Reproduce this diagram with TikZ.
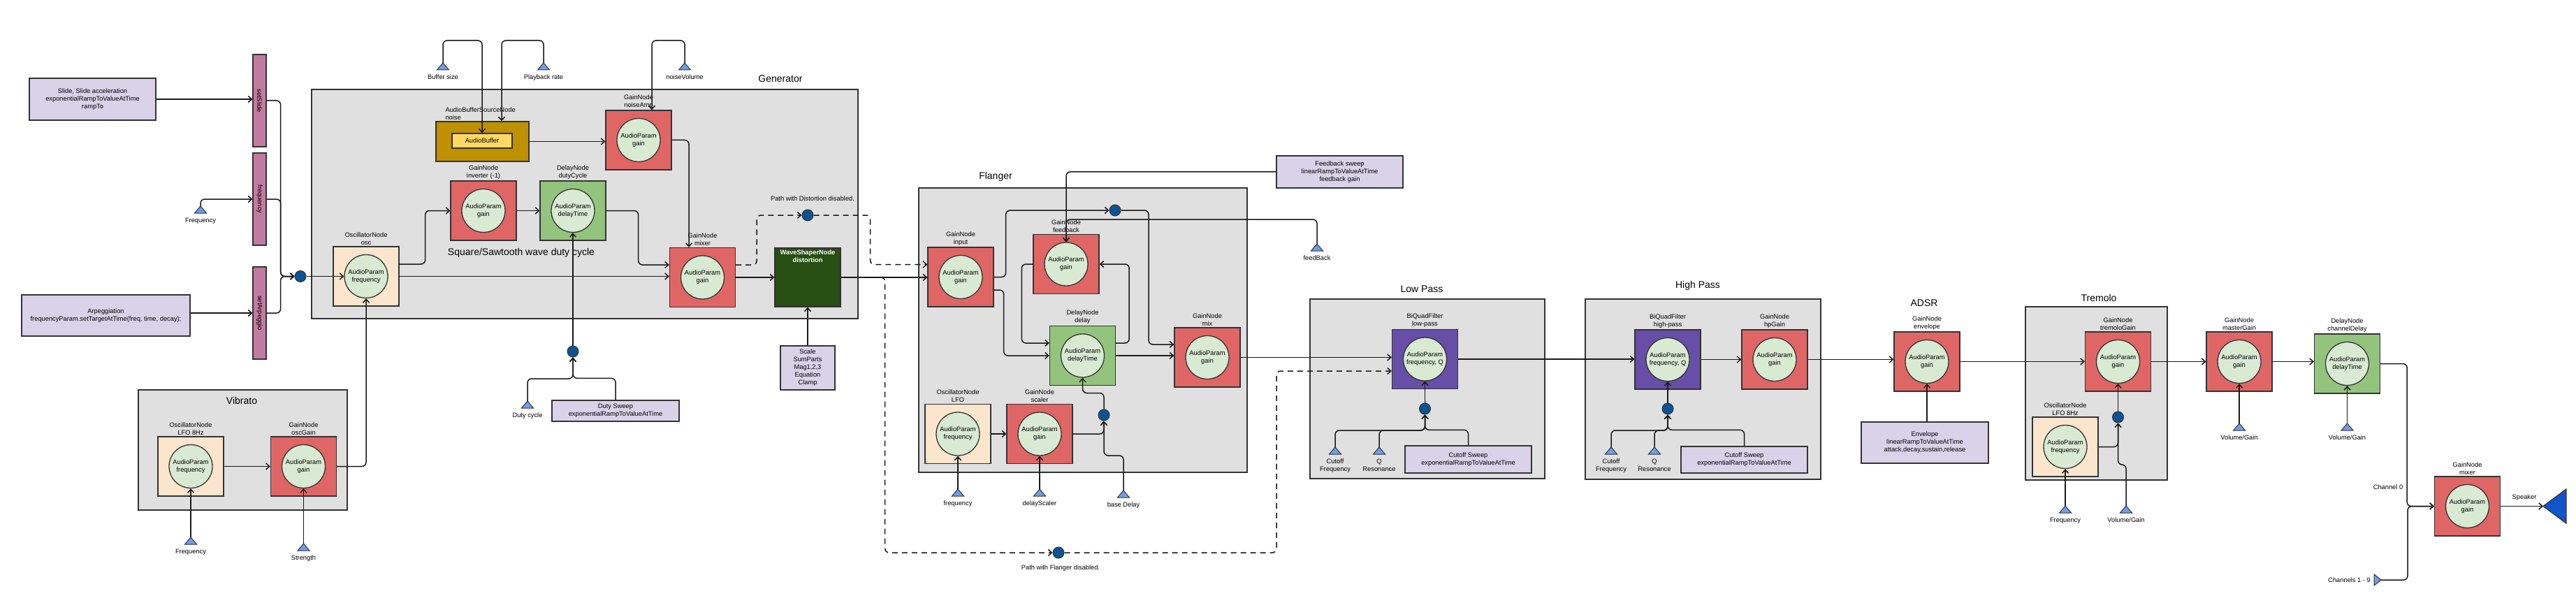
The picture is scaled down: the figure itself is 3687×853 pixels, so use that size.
\documentclass[tikz,border=0pt]{standalone}
\usepackage{fontspec}
\usepackage{graphicx}
\setmainfont{Liberation Sans}
\usetikzlibrary{arrows.meta,calc}
\definecolor{grp}{HTML}{E0E0E0}
\definecolor{redbox}{HTML}{E06666}
\definecolor{circfill}{HTML}{D9EAD3}
\definecolor{peach}{HTML}{FCE5CD}
\definecolor{greenbox}{HTML}{93C47D}
\definecolor{purp}{HTML}{674EA7}
\definecolor{lav}{HTML}{D9D2E9}
\definecolor{pinkbar}{HTML}{C27BA0}
\definecolor{goldbox}{HTML}{BF9000}
\definecolor{yel}{HTML}{FFD966}
\definecolor{dkgreen}{HTML}{274E13}
\definecolor{dotblue}{HTML}{0B5394}
\definecolor{triblue}{HTML}{6D9EEB}
\definecolor{spkblue}{HTML}{1155CC}
\definecolor{edge}{HTML}{333333}
\tikzset{
 base/.style={font=\fontsize{9.3}{11}\selectfont, text=black},
 pbox/.style={draw=edge, line width=1.3pt, minimum width=94, minimum height=85, inner sep=0},
 gainbox/.style={pbox, fill=redbox},
 oscbox/.style={pbox, fill=peach},
 delaybox/.style={pbox, fill=greenbox},
 filtbox/.style={pbox, fill=purp},
 pcirc/.style={circle, draw=edge, line width=1.3pt, fill=circfill, minimum size=62, inner sep=0, align=center, base},
 plabel/.style={anchor=south, align=center, inner sep=2pt, base},
 group/.style={draw=edge, line width=1.5pt, fill=grp, inner sep=0},
 title/.style={font=\fontsize{14}{16}\selectfont, text=black, inner sep=0},
 note/.style={draw=edge, line width=1.3pt, fill=lav, align=center, inner sep=0, base},
 bar/.style={draw=edge, line width=1.3pt, fill=pinkbar, minimum width=19, minimum height=132, inner sep=0, base},
 dot/.style={circle, draw=edge, line width=1pt, fill=dotblue, minimum size=16, inner sep=0},
 tri/.style={draw=edge, line width=1pt, fill=triblue},
 tlabel/.style={anchor=north, align=center, inner sep=0, base},
 conn/.style={draw=black!90, line width=1.5pt, rounded corners=6pt, -{Straight Barb[length=5pt,width=9pt]}},
 dconn/.style={conn, dash pattern=on 8pt off 6pt},
 txt/.style={base, inner sep=0}
}
\newcommand{\mkparam}[6]{%
  \node[#2] (#1) at (#3,#4) {};
  \node[pcirc] (#1-c) at (#1.center) {#6};
  \node[plabel] (#1-l) at (#1.north) {#5};
}
\newcommand{\mkinput}[4]{%
  \coordinate (#1) at (#2,#3);
  \draw[tri] (#1) -- ++(-8.5,10) -- ++(17,0) -- cycle;
  \node[tlabel] (#1-l) at ($(#1)+(0,17)$) {#4};
}
\begin{document}
\begin{tikzpicture}[x=1pt,y=-1pt]
\useasboundingbox (0,0) rectangle (3687,853);
\fill[white] (0,0) rectangle (3687,853);

% groups
\node[group, minimum width=782, minimum height=328] (gen) at (837,292) {};
\node[group, minimum width=299, minimum height=172] (vib) at (347.5,644) {};
\node[group, minimum width=470, minimum height=407] (flg) at (1550,472.5) {};
\node[group, minimum width=336, minimum height=257] (lpg) at (2043,556.5) {};
\node[group, minimum width=337, minimum height=258] (hpgr) at (2437.5,557) {};
\node[group, minimum width=203, minimum height=248] (trem) at (3000.5,563) {};

% titles
\node[title] (gen-t) at (1117,113) {Generator};
\node[title] (vib-t) at (346,573) {Vibrato};
\node[title] (flg-t) at (1425,253) {Flanger};
\node[title] (lp-t) at (2035,414) {Low Pass};
\node[title] (hp-t) at (2430,409) {High Pass};
\node[title] (adsr-t) at (2754,434) {ADSR};
\node[title] (trem-t) at (3004,426) {Tremolo};
\node[title] (sq-t) at (746,362) {Square/Sawtooth wave duty cycle};

% left controls
\node[note, minimum width=181, minimum height=60] (slide) at (132.5,142) {Slide, Slide acceleration\\exponentialRampToValueAtTime\\rampTo};
\node[note, minimum width=241, minimum height=59] (arp) at (151.5,451.5) {Arpeggiation\\frequencyParam.setTargetAtTime(freq, time, decay);};
\node[bar] (setslide) at (371.5,144) {\rotatebox{-90}{setSlide}};
\node[bar] (freqbar) at (371.5,285) {\rotatebox{-90}{frequency}};
\node[bar] (setarp) at (371.5,448) {\rotatebox{-90}{setArpeggio}};
\mkinput{tf1}{287}{295}{Frequency}
\node[dot] (dot1) at (430,395.5) {};

% generator
\mkparam{osc}{oscbox}{524}{395.5}{OscillatorNode\\osc}{AudioParam\\frequency}
\mkparam{inv}{gainbox}{692}{301.5}{GainNode\\inverter (-1)}{AudioParam\\gain}
\mkparam{duty}{delaybox}{820}{301.5}{DelayNode\\dutyCycle}{AudioParam\\delayTime}
\mkparam{namp}{gainbox}{914}{200.5}{GainNode\\noiseAmp}{AudioParam\\gain}
\mkparam{gmix}{gainbox}{1005.5}{397}{GainNode\\mixer}{AudioParam\\gain}
\node[pbox, fill=goldbox, minimum width=133, minimum height=57] (noise) at (690.5,202.5) {};
\node[plabel, anchor=south west, align=left] (noise-l) at ($(noise.north west)+(12,0)$) {AudioBufferSourceNode\\noise};
\node[draw=edge, line width=1.3pt, fill=yel, minimum width=86, minimum height=21, inner sep=0, base] (abuf) at (690,201.5) {AudioBuffer};
\node[pbox, fill=dkgreen, minimum height=84] (dist) at (1156,397) {};
\node[anchor=north, align=center, text=white, font=\fontsize{9.3}{11}\selectfont\bfseries, inner sep=0] (dist-t) at ($(dist.north)+(0,3)$) {WaveShaperNode\\distortion};
\mkinput{tbuf}{634}{90}{Buffer size}
\mkinput{tplay}{778}{90}{Playback rate}
\mkinput{tnv}{980}{90}{noiseVolume}
\mkinput{tduty}{755}{574}{Duty cycle}
\node[note, minimum width=182, minimum height=30] (dsweep) at (881,588) {Duty Sweep\\exponentialRampToValueAtTime};
\node[dot] (dot2) at (820,503) {};
\node[note, minimum width=78, minimum height=63] (scale) at (1156,526.5) {Scale\\SumParts\\Mag1,2,3\\Equation\\Clamp};
\node[dot] (dot3) at (1156,308) {};
\node[txt] (pdist) at (1163,284) {Path with Distortion disabled.};
\node[dot] (dot4) at (1515,791) {};
\node[txt] (pflg) at (1518,813) {Path with Flanger disabled.};

% vibrato
\mkparam{vlfo}{oscbox}{273}{667.5}{OscillatorNode\\LFO 8Hz}{AudioParam\\frequency}
\mkparam{vgain}{gainbox}{434.5}{667.5}{GainNode\\oscGain}{AudioParam\\gain}
\mkinput{tvf}{273}{769}{Frequency}
\mkinput{tvs}{434.5}{778}{Strength}

% flanger
\mkparam{finput}{gainbox}{1375}{396.5}{GainNode\\input}{AudioParam\\gain}
\mkparam{ffeed}{gainbox}{1526}{378}{GainNode\\feedback}{AudioParam\\gain}
\mkparam{fdelay}{delaybox}{1549.5}{509}{DelayNode\\delay}{AudioParam\\delayTime}
\mkparam{fmix}{gainbox}{1728}{511.5}{GainNode\\mix}{AudioParam\\gain}
\mkparam{flfo}{oscbox}{1371}{621}{OscillatorNode\\LFO}{AudioParam\\frequency}
\mkparam{fscaler}{gainbox}{1488}{621}{GainNode\\scaler}{AudioParam\\gain}
\node[dot] (dot5) at (1596,301) {};
\node[dot] (dot6) at (1580,594) {};
\mkinput{tff}{1371}{700}{frequency}
\mkinput{tfs}{1488}{700}{delayScaler}
\mkinput{tfb}{1608}{702}{base Delay}
\node[note, minimum width=181, minimum height=46] (fbsweep) at (1917.5,246) {Feedback sweep\\linearRampToValueAtTime\\feedback gain};
\mkinput{tfback}{1885}{349}{feedBack}

% low pass
\mkparam{lp}{filtbox}{2039.5}{514}{BiQuadFilter\\low-pass}{AudioParam\\frequency, Q}
\node[dot] (dot7) at (2039.5,585) {};
\mkinput{tcf1}{1911}{640}{Cutoff\\Frequency}
\mkinput{tq1}{1974}{640}{Q\\Resonance}
\node[note, minimum width=181, minimum height=39] (lpsweep) at (2101.5,657.5) {Cutoff Sweep\\exponentialRampToValueAtTime};

% high pass
\mkparam{hp}{filtbox}{2387}{514.5}{BiQuadFilter\\high-pass}{AudioParam\\frequency, Q}
\mkparam{hpg}{gainbox}{2540}{514.5}{GainNode\\hpGain}{AudioParam\\gain}
\node[dot] (dot8) at (2387,585) {};
\mkinput{tcf2}{2306}{640}{Cutoff\\Frequency}
\mkinput{tq2}{2368}{640}{Q\\Resonance}
\node[note, minimum width=181, minimum height=38] (hpsweep) at (2496.5,658) {Cutoff Sweep\\exponentialRampToValueAtTime};

% ADSR
\mkparam{env}{gainbox}{2758}{517.5}{GainNode\\envelope}{AudioParam\\gain}
\node[note, minimum width=182, minimum height=59] (envbox) at (2755,633.5) {Envelope\\linearRampToValueAtTime\\attack,decay,sustain,release};

% tremolo
\mkparam{trg}{gainbox}{3031.5}{517.5}{GainNode\\tremoloGain}{AudioParam\\gain}
\mkparam{tlfo}{oscbox}{2956}{639.5}{OscillatorNode\\LFO 8Hz}{AudioParam\\frequency}
\node[dot] (dot9) at (3031.5,597) {};
\mkinput{ttf}{2956}{724}{Frequency}
\mkinput{ttv}{3043}{724}{Volume/Gain}

% output
\mkparam{master}{gainbox}{3205}{517.5}{GainNode\\masterGain}{AudioParam\\gain}
\mkparam{chd}{delaybox}{3359.5}{520.5}{DelayNode\\channelDelay}{AudioParam\\delayTime}
\mkinput{tmv}{3205}{606}{Volume/Gain}
\mkinput{tcv}{3359.5}{606}{Volume/Gain}
\mkparam{omix}{gainbox}{3531.5}{724.5}{GainNode\\mixer}{AudioParam\\gain}
\coordinate (tch) at (3408,830);
\draw[tri] (tch) -- ++(-10,-8) -- ++(0,16) -- cycle;
\node[txt, anchor=east] (tch-l) at (3393,830) {Channels 1 - 9};
\node[txt] (ch0) at (3418,697) {Channel 0};
\coordinate (spk) at (3640,724.5);
\draw[draw=edge, line width=1.3pt, fill=spkblue] (spk) -- ++(33,-24.5) -- ++(0,49) -- cycle;
\node[txt] (spk-l) at (3613,712) {Speaker};

% ---------- connectors ----------
\draw[conn] (slide.east) -- (setslide.west |- slide.east);
\draw[conn] (tf1) |- (freqbar.west);
\draw[conn] (arp.east |- setarp.west) -- (setarp.west);
\draw[conn] (setslide.east) -- ++(20,0) |- (dot1.west);
\draw[conn] (freqbar.east) -- ++(20,0) |- (dot1.west);
\draw[conn] (setarp.east) -- ++(20,0) |- (dot1.west);
\draw[conn] (dot1.east) -- (osc-c.west);

\draw[conn] ($(osc.east)+(0,-17.5)$) -- ++(37,0) |- (inv.west);
\draw[conn] (inv.east) -- (duty.west);
\draw[conn] (duty.east) -- ++(46,0) |- ($(gmix.west)+(0,-18)$);
\draw[conn] (osc.east) -- (gmix.west |- osc.east);
\draw[conn] (noise.east) -- (namp.west |- noise.east);
\draw[conn] (namp.east) -| ($(gmix.north)+(-19.5,0)$);
\draw[conn] (gmix.east) -- (dist.west |- gmix.east);
\draw[conn] (tbuf) -- ++(0,-32) -| (abuf.north);
\draw[conn] (tplay) -- ++(0,-32) -| ($(noise.north)+(27.5,0)$);
\draw[conn] (tnv) -- ++(0,-32) -| ($(namp.north)+(19,0)$);
\draw[conn] (tduty) -- ++(0,-32) -| (dot2.south);
\draw[conn] (dsweep.north) -- ++(0,-31) -| (dot2.south);
\draw[conn] (dot2.north) -- (duty-c.south);
\draw[conn] (scale.north) -- (dist.south);
\draw[dconn] ($(gmix.east)+(0,-18)$) -- ++(30,0) |- (dot3.west);
\draw[dconn] (dot3.east) -- ++(81,0) |- ($(finput.west)+(0,-18)$);
\draw[conn] (dist.east) -- (finput.west |- dist.east);
\draw[dconn] (dist.east) -- ++(63,0) |- (dot4.west);
\draw[dconn] (dot4.east) -- ++(303.5,0) |- ($(lp.west)+(0,17)$);

\draw[conn] (vlfo.east) -- (vgain.west);
\draw[conn] (vgain.east) -| (osc-c.south);
\draw[conn] (tvf) -- (vlfo-c.south);
\draw[conn] (tvs) -- (vgain-c.south);

\draw[conn] (finput.east) -- ++(17,0) |- (dot5.west);
\draw[conn] (dot5.east) -- ++(39.5,0) |- ($(fmix.west)+(0,-18.5)$);
\draw[conn] ($(finput.east)+(0,18.5)$) -- ++(14,0) |- (fdelay.west);
\draw[conn] (ffeed.west) -- ++(-16,0) |- ($(fdelay.west)+(0,-18)$);
\draw[conn] ($(fdelay.east)+(0,-18)$) -- ++(19,0) |- (ffeed.east);
\draw[conn] (fdelay.east) -- (fmix.west |- fdelay.east);
\draw[conn] (flfo.east) -- (fscaler.west);
\draw[conn] (fscaler.east) -| (dot6.south);
\draw[conn] (tfb) -- ++(0,-50) -| (dot6.south);
\draw[conn] (dot6.north) -- ++(0,-23) -| (fdelay-c.south);
\draw[conn] (tff) -- (flfo-c.south);
\draw[conn] (tfs) -- (fscaler-c.south);
\draw[conn] (fbsweep.west) -| (ffeed-c.north);
\draw[conn] (tfback) -- ++(0,-35) -| (ffeed-c.north);
\draw[conn] (fmix.east) -- (lp.west |- fmix.east);

\draw[conn] (tcf1) -- ++(0,-24) -| (dot7.south);
\draw[conn] (tq1) -- ++(0,-24) -| (dot7.south);
\draw[conn] (lpsweep.north) -- ++(0,-22) -| (dot7.south);
\draw[conn] (dot7.north) -- (lp-c.south);
\draw[conn] (lp.east) -- (hp.west |- lp.east);

\draw[conn] (tcf2) -- ++(0,-24) -| (dot8.south);
\draw[conn] (tq2) -- ++(0,-24) -| (dot8.south);
\draw[conn] (hpsweep.north) -- ++(0,-23) -| (dot8.south);
\draw[conn] (dot8.north) -- (hp-c.south);
\draw[conn] (hp.east) -- (hpg.west);
\draw[conn] (hpg.east) -- (env.west |- hpg.east);

\draw[conn] (envbox.north -| env-c.south) -- (env-c.south);
\draw[conn] (env.east) -- (trg.west);

\draw[conn] (tlfo.east) -| (dot9.south);
\draw[conn] (ttv) -- ++(0,-59) -| (dot9.south);
\draw[conn] (ttf) -- (tlfo-c.south);
\draw[conn] (dot9.north) -- (trg-c.south);
\draw[conn] (trg.east) -- (master.west);
\draw[conn] (tmv) -- (master-c.south);
\draw[conn] (master.east) -- (chd.west |- master.east);
\draw[conn] (tcv) -- (chd-c.south);
\draw[conn] (chd.east) -- ++(38,0) |- (omix.west);
\draw[conn] (tch) -- ++(38,0) |- (omix.west);
\draw[conn] (omix.east) -- (spk);
\end{tikzpicture}
\end{document}
